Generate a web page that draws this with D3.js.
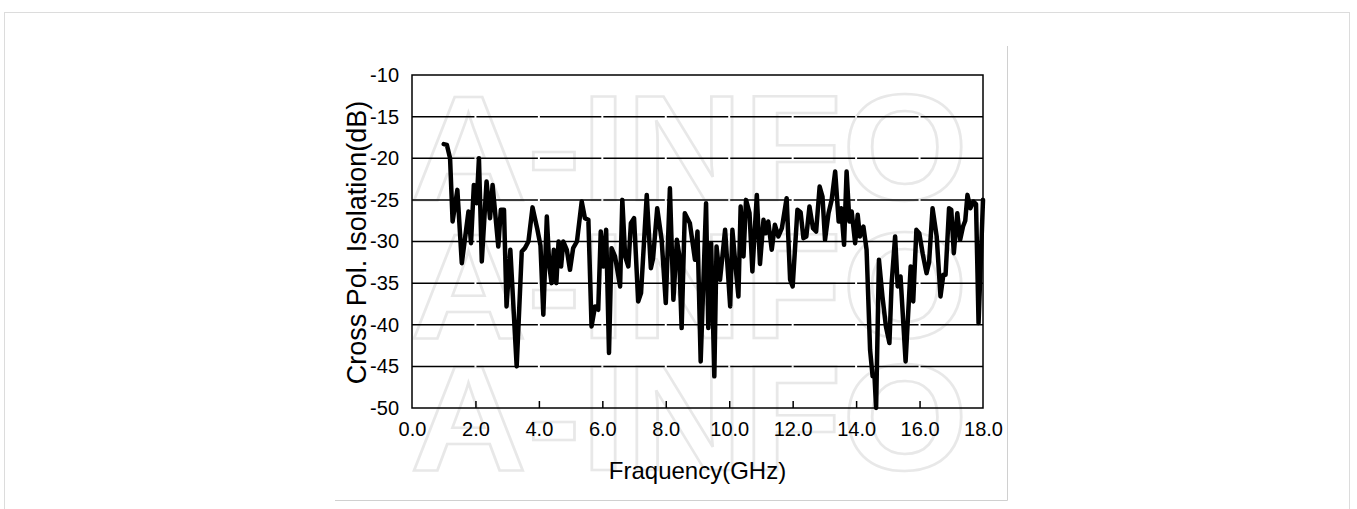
<!DOCTYPE html>
<html>
<head>
<meta charset="utf-8">
<script src="https://cdn.jsdelivr.net/npm/d3@7"></script>
<style>
  html, body { margin: 0; padding: 0; background: #fff; }
  #chart { width: 1357px; height: 509px; }
</style>
</head>
<body>
<div id="chart"></div>
<script>
// frequency (GHz) and isolation (dB)
const freqs = [
  1.0, 1.1, 1.2, 1.28, 1.43, 1.57, 1.78, 1.86, 1.95, 2.04,
  2.11, 2.2, 2.35, 2.46, 2.54, 2.72, 2.8, 2.9, 2.98, 3.1,
  3.3, 3.46, 3.56, 3.67, 3.8, 3.95, 4.05, 4.14, 4.25, 4.33,
  4.4, 4.47, 4.55, 4.62, 4.7, 4.77, 4.88, 4.98, 5.08, 5.2,
  5.35, 5.45, 5.56, 5.66, 5.77, 5.87, 5.95, 6.03, 6.12, 6.21,
  6.29, 6.4, 6.56, 6.63, 6.72, 6.82, 6.9, 7.0, 7.13, 7.22,
  7.4, 7.53, 7.6, 7.73, 7.87, 8.0, 8.13, 8.24, 8.35, 8.42,
  8.5, 8.6, 8.76, 8.92, 9.0, 9.1, 9.27, 9.34, 9.43, 9.53,
  9.6, 9.71, 9.87, 10.03, 10.1, 10.21, 10.29, 10.36, 10.45, 10.53,
  10.64, 10.73, 10.87, 10.97, 11.08, 11.15, 11.23, 11.34, 11.44, 11.55,
  11.66, 11.81, 11.92, 12.0, 12.15, 12.25, 12.34, 12.43, 12.53, 12.64,
  12.74, 12.85, 12.94, 13.02, 13.13, 13.23, 13.34, 13.45, 13.53, 13.62,
  13.7, 13.79, 13.86, 13.97, 14.05, 14.12, 14.23, 14.33, 14.44, 14.52,
  14.58, 14.63, 14.72, 14.83, 14.94, 15.05, 15.12, 15.23, 15.31, 15.4,
  15.56, 15.67, 15.72, 15.8, 15.9, 15.99, 16.1, 16.22, 16.3, 16.41,
  16.54, 16.66, 16.75, 16.82, 16.93, 17.0, 17.08, 17.19, 17.28, 17.37,
  17.44, 17.51, 17.6, 17.7, 17.78, 17.86, 18.0
];
const isolation = [
  -18.3, -18.4, -20.0, -27.6, -23.8, -32.6, -26.4, -30.2, -23.2, -25.4,
  -20.0, -32.4, -22.8, -27.2, -23.2, -30.6, -26.2, -26.2, -37.8, -31.0,
  -45.0, -31.2, -30.8, -30.0, -25.9, -28.5, -30.5, -38.8, -27.0, -33.0,
  -35.0, -31.0, -35.0, -30.0, -33.0, -30.0, -31.0, -33.4, -30.8, -30.0,
  -25.2, -27.2, -27.4, -40.2, -37.8, -38.2, -28.8, -33.0, -28.6, -43.4,
  -30.8, -31.8, -35.4, -25.0, -31.8, -33.0, -27.8, -27.2, -37.2, -36.2,
  -24.4, -33.2, -32.0, -26.0, -29.8, -37.4, -23.6, -37.0, -29.8, -31.5,
  -40.4, -26.6, -27.8, -32.2, -28.8, -44.4, -25.4, -40.4, -30.2, -46.2,
  -30.6, -34.6, -28.6, -37.8, -28.6, -33.4, -36.6, -25.8, -31.8, -25.0,
  -26.6, -33.6, -24.4, -32.7, -27.4, -29.0, -27.6, -31.0, -28.0, -29.4,
  -28.4, -24.8, -34.6, -35.4, -26.2, -26.5, -29.6, -29.4, -25.8, -28.4,
  -28.8, -23.4, -24.6, -29.8, -26.6, -25.0, -21.6, -27.6, -26.0, -30.4,
  -21.6, -27.6, -26.4, -30.2, -26.8, -29.4, -28.2, -31.0, -43.0, -46.2,
  -46.2, -50.0, -32.2, -36.6, -40.2, -42.2, -35.0, -29.4, -35.4, -34.2,
  -44.4, -36.6, -33.0, -37.2, -28.6, -29.0, -31.5, -33.8, -32.5, -26.0,
  -29.4, -36.6, -34.0, -34.0, -26.0, -26.2, -31.4, -26.6, -29.8, -28.2,
  -27.5, -24.4, -26.0, -25.2, -25.5, -39.8, -25.0
];
const xTicks = [0, 2, 4, 6, 8, 10, 12, 14, 16, 18];
const yTicks = [-10, -15, -20, -25, -30, -35, -40, -45, -50];
const xTitle = 'Fraquency(GHz)';
const yTitle = 'Cross Pol. Isolation(dB)';
const watermark = 'A-INFO';

const W = 1357, H = 509;
const margin = { top: 75, left: 412 };
const width = 571, height = 333;
const font = '"Liberation Sans", Arial, sans-serif';

const root = d3.select('#chart').append('svg')
  .attr('width', W)
  .attr('height', H)
  .style('font-family', font);

// page frame
root.append('rect')
  .attr('x', 4.5).attr('y', 12.5)
  .attr('width', 1345).attr('height', 600)
  .attr('fill', 'none').attr('stroke', '#dcdcdc');
root.append('path')
  .attr('d', 'M1007.5,46V500.5H335')
  .attr('fill', 'none').attr('stroke', '#d0d0d0');

// faint watermark
[200, 338, 470].forEach(yy => {
  root.append('text')
    .attr('x', 410).attr('y', yy)
    .attr('textLength', 558)
    .attr('lengthAdjust', 'spacingAndGlyphs')
    .style('font-size', '150px')
    .style('font-weight', 'bold')
    .attr('fill', 'none')
    .attr('stroke', '#e8e8e8')
    .attr('stroke-width', 2.5)
    .text(watermark);
});

const svg = root.append('g')
  .attr('transform', 'translate(' + margin.left + ',' + margin.top + ')');

const x = d3.scaleLinear().domain([0, 18]).range([0, width]);
const y = d3.scaleLinear().domain([-50, -10]).range([height, 0]);

// gridlines, broken a little at each x tick like the original
const gridSegs = [];
yTicks.filter(v => v !== -10 && v !== -50).forEach(v => {
  for (let i = 0; i < xTicks.length - 1; i++) {
    gridSegs.push({ v: v, a: xTicks[i], b: xTicks[i + 1] });
  }
});
svg.append('g')
  .selectAll('line')
  .data(gridSegs)
  .join('line')
  .attr('x1', d => x(d.a) + (d.a === 0 ? 0 : 1))
  .attr('x2', d => x(d.b) - (d.b === 18 ? 0 : 1))
  .attr('y1', d => y(d.v))
  .attr('y2', d => y(d.v))
  .attr('stroke', '#000')
  .attr('stroke-width', 1.5);

// frame
svg.append('rect')
  .attr('x', 0).attr('y', 0)
  .attr('width', width).attr('height', height)
  .attr('fill', 'none')
  .attr('stroke', '#000')
  .attr('stroke-width', 1.5);

// x axis
const xAxis = svg.append('g')
  .attr('transform', `translate(0, ${height})`)
  .call(d3.axisBottom(x).tickValues(xTicks).tickFormat(d => d.toFixed(1)).tickSize(-7).tickPadding(14));
xAxis.select('.domain').remove();
xAxis.selectAll('.tick line').attr('stroke', '#000').attr('stroke-width', 1.5)
  .filter(d => d === 0 || d === 18).remove();
xAxis.selectAll('text')
  .style('font-size', '20px')
  .style('font-family', font)
  .attr('fill', '#000');

// y axis
const yAxis = svg.append('g')
  .call(d3.axisLeft(y).tickValues(yTicks).tickFormat(d => String(d)).tickSize(0).tickPadding(13));
yAxis.select('.domain').remove();
yAxis.selectAll('text')
  .style('font-size', '20px')
  .style('font-family', font)
  .attr('fill', '#000');

// data line
const line = d3.line()
  .x((d, i) => x(freqs[i]))
  .y(d => y(d));
svg.append('path')
  .datum(isolation)
  .attr('d', line)
  .attr('fill', 'none')
  .attr('stroke', '#000')
  .attr('stroke-width', 4.5)
  .attr('stroke-linejoin', 'round')
  .attr('stroke-linecap', 'round');

// titles
root.append('text')
  .attr('x', margin.left + width / 2)
  .attr('y', 479)
  .attr('text-anchor', 'middle')
  .style('font-size', '24px')
  .attr('fill', '#000')
  .text(xTitle);

root.append('text')
  .attr('transform', `translate(366, ${margin.top + height / 2 + 1}) rotate(-90)`)
  .attr('text-anchor', 'middle')
  .style('font-size', '27px')
  .attr('fill', '#000')
  .text(yTitle);
</script>
</body>
</html>
